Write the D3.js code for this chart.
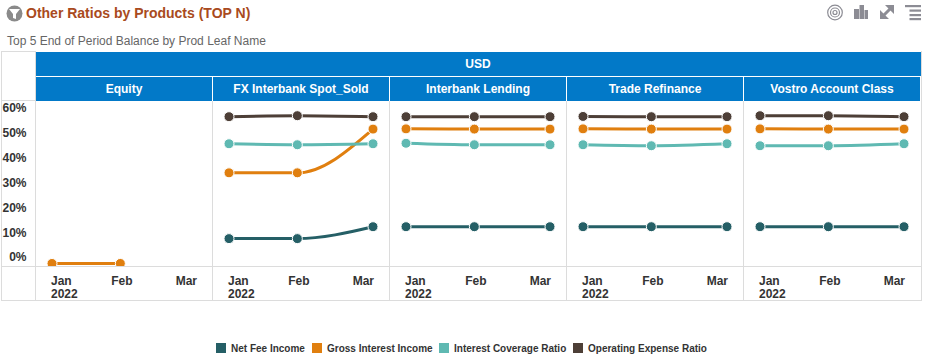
<!DOCTYPE html>
<html>
<head>
<meta charset="utf-8">
<script src="https://cdn.jsdelivr.net/npm/d3@7"></script>
<style>
    html, body { margin: 0; padding: 0; background: #fff; }
    svg { display: block; }
    text { font-family: "Liberation Sans", Arial, sans-serif; }
    .tick text { font-size: 12px; font-weight: bold; fill: #333; }
</style>
</head>
<body>
<div id="chart"></div>
<script>
const products = ["Equity", "FX Interbank Spot_Sold", "Interbank Lending", "Trade Refinance", "Vostro Account Class"];
const months = ["2022-01-31", "2022-02-28", "2022-03-31"];
const monthLabels = ["Jan", "Feb", "Mar"];
const yTicks = [0, 10, 20, 30, 40, 50, 60];
const seriesNames = ["Net Fee Income", "Gross Interest Income", "Interest Coverage Ratio", "Operating Expense Ratio"];
const seriesColors = ["#255f66", "#e07f0f", "#5fb9b2", "#4d3f37"];

// one row per product, same order as products
const netFee = [
    [null, null, null],
    [7.4, 7.4, 12.2],
    [12.2, 12.2, 12.2],
    [12.2, 12.2, 12.2],
    [12.2, 12.2, 12.2]
];
const grossInterest = [
    [-2.6, -2.6, null],
    [33.9, 33.9, 51.5],
    [51.6, 51.5, 51.5],
    [51.6, 51.5, 51.5],
    [51.6, 51.5, 51.5]
];
const interestCoverage = [
    [null, null, null],
    [45.6, 45.2, 45.6],
    [45.8, 45.2, 45.2],
    [45.2, 44.8, 45.6],
    [44.8, 44.8, 45.6]
];
const operatingExpense = [
    [null, null, null],
    [56.5, 56.9, 56.5],
    [56.5, 56.5, 56.5],
    [56.6, 56.5, 56.5],
    [56.9, 56.9, 56.5]
];
const seriesValues = [netFee, grossInterest, interestCoverage, operatingExpense];

const gridColor = "#dcdcdc";
const blue = "#0279c8";
const parseDate = d3.timeParse("%Y-%m-%d");
const dates = months.map(parseDate);

const svg = d3.select("#chart").append("svg")
    .attr("width", 927)
    .attr("height", 360);

// title row
svg.append("circle").attr("cx", 14.5).attr("cy", 13.5).attr("r", 8).attr("fill", "#8a8a8a");
svg.append("path").attr("d", "M9 9 H20 L16 14 V19 L13 18 V14 Z").attr("fill", "#fff");
svg.append("text")
    .attr("x", 26).attr("y", 18)
    .attr("font-size", 14).attr("font-weight", "bold").attr("fill", "#a94a20")
    .text("Other Ratios by Products (TOP N)");
svg.append("text")
    .attr("x", 7).attr("y", 45)
    .attr("font-size", 12).attr("fill", "#666")
    .text("Top 5 End of Period Balance by Prod Leaf Name");

// toolbar icons
const iconColor = "#8c8c94";
[7.3, 4.5, 2].forEach(r => {
    svg.append("circle").attr("cx", 835).attr("cy", 12.5).attr("r", r)
        .attr("fill", "none").attr("stroke", iconColor).attr("stroke-width", 1.2);
});
[[854, 9, 5], [859.5, 5, 4.5], [864.5, 10, 3.5]].forEach(b => {
    svg.append("rect").attr("x", b[0]).attr("y", b[1]).attr("width", b[2]).attr("height", 19 - b[1]).attr("fill", iconColor);
});
svg.append("path").attr("d", "M885 5 H894 V14 Z M880 19 V10 L889 19 Z").attr("fill", iconColor);
svg.append("line").attr("x1", 884).attr("y1", 15).attr("x2", 890).attr("y2", 9).attr("stroke", iconColor).attr("stroke-width", 3);
[5, 9.5, 14, 18].forEach((y, i) => {
    svg.append("rect").attr("x", i == 0 ? 905 : 909.5).attr("y", y).attr("width", i == 0 ? 16 : 11.5).attr("height", 2.2).attr("fill", iconColor);
});

// header table
const panelW = 177;
const panelX = d3.scalePoint().domain(products).range([35.5, 35.5 + panelW * 4]);

svg.append("rect").attr("x", 36).attr("y", 52).attr("width", 885).attr("height", 24).attr("fill", blue);
svg.append("text")
    .attr("x", 478).attr("y", 68).attr("text-anchor", "middle")
    .attr("font-size", 12).attr("font-weight", "bold").attr("fill", "#fff")
    .text("USD");

products.forEach(p => {
    svg.append("rect").attr("x", panelX(p) + 0.5).attr("y", 77).attr("width", panelW - 1).attr("height", 24).attr("fill", blue);
    svg.append("text")
        .attr("x", panelX(p) + panelW / 2).attr("y", 93).attr("text-anchor", "middle")
        .attr("font-size", 12).attr("font-weight", "bold").attr("fill", "#fff")
        .text(p);
});

// grid lines
const grid = svg.append("g").attr("stroke", gridColor).attr("stroke-width", 1);
grid.append("line").attr("x1", 1).attr("x2", 36).attr("y1", 51.5).attr("y2", 51.5);
grid.append("line").attr("x1", 1.5).attr("x2", 1.5).attr("y1", 51).attr("y2", 301);
grid.append("line").attr("x1", 921.5).attr("x2", 921.5).attr("y1", 51).attr("y2", 301);
grid.append("line").attr("x1", 1).attr("x2", 922).attr("y1", 266.5).attr("y2", 266.5);
grid.append("line").attr("x1", 1).attr("x2", 922).attr("y1", 300.5).attr("y2", 300.5);
grid.append("line").attr("x1", 2).attr("x2", 36).attr("y1", 100.5).attr("y2", 100.5);
grid.append("line").attr("x1", 35.5).attr("x2", 35.5).attr("y1", 51).attr("y2", 301);
products.slice(1).forEach(p => {
    grid.append("line").attr("x1", panelX(p)).attr("x2", panelX(p)).attr("y1", 101).attr("y2", 301);
});

// scales
const y = d3.scaleLinear().domain([0, 60]).range([257, 108]);
const x = d3.scaleTime().domain([dates[0], dates[2]]).range([16.5, 160.5]);

const yAxis = svg.append("g")
    .attr("transform", "translate(26.5,0)")
    .call(d3.axisLeft(y).tickValues(yTicks).tickSize(0).tickPadding(0).tickFormat(d => d + "%"));
yAxis.select(".domain").remove();

const line = d3.line()
    .defined(d => d.value != null)
    .x(d => x(d.date))
    .y(d => y(d.value))
    .curve(d3.curveMonotoneX);

svg.append("clipPath").attr("id", "plot_clip")
    .append("rect").attr("x", 0).attr("y", 101).attr("width", panelW).attr("height", 165);

products.forEach((p, i) => {
    const panel = svg.append("g").attr("transform", "translate(" + panelX(p) + ",0)");

    const xAxis = panel.append("g")
        .attr("transform", "translate(0,267)")
        .call(d3.axisBottom(x).tickValues(dates).tickSize(0).tickPadding(9)
            .tickFormat((d, k) => monthLabels[k]));
    xAxis.select(".domain").remove();
    // first and last labels stay inside the panel
    xAxis.selectAll(".tick text")
        .attr("text-anchor", (d, k) => k == 0 ? "start" : (k == 2 ? "end" : "middle"))
        .attr("dx", (d, k) => k == 0 ? -1.5 : (k == 2 ? 0.5 : 1));
    xAxis.select(".tick text").clone()
        .attr("dy", "1.84em")
        .text("2022");

    const plot = panel.append("g").attr("clip-path", "url(#plot_clip)");
    seriesValues.forEach((rows, s) => {
        const points = dates.map((d, k) => ({date: d, value: rows[i][k]}));
        plot.append("path")
            .datum(points)
            .attr("fill", "none")
            .attr("stroke", seriesColors[s])
            .attr("stroke-width", 3)
            .attr("d", line);
        plot.selectAll(null)
            .data(points.filter(d => d.value != null))
            .enter()
            .append("circle")
            .attr("cx", d => x(d.date))
            .attr("cy", d => y(d.value))
            .attr("r", 5)
            .attr("fill", seriesColors[s])
            .attr("stroke", "#fff")
            .attr("stroke-width", 1);
    });
});

// legend
const legendX = [216, 312, 439, 573];
seriesNames.forEach((name, s) => {
    svg.append("rect")
        .attr("x", legendX[s]).attr("y", 343)
        .attr("width", 10).attr("height", 10)
        .attr("fill", seriesColors[s]);
    svg.append("text")
        .attr("x", legendX[s] + 15).attr("y", 351.5)
        .attr("font-size", 10).attr("font-weight", "bold").attr("fill", "#333")
        .text(name);
});
</script>
</body>
</html>
